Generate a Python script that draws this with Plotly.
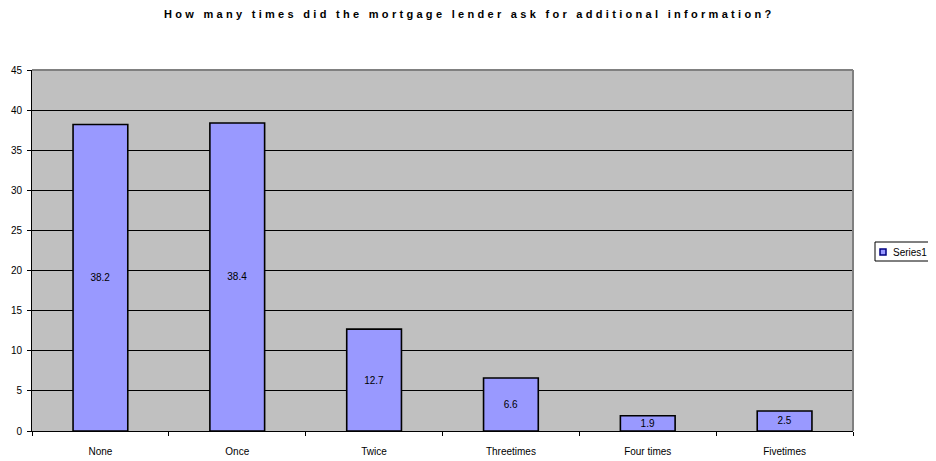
import plotly.graph_objects as go

categories = ["None", "Once", "Twice", "Threetimes", "Four times", "Fivetimes"]
values = [38.2, 38.4, 12.7, 6.6, 1.9, 2.5]
labels = ["38.2", "38.4", "12.7", "6.6", "1.9", "2.5"]
y_ticks = [0, 5, 10, 15, 20, 25, 30, 35, 40, 45]
series_name = "Series1"
title_text = "How many times did the mortgage lender ask for additional information?"

FONT = "Liberation Sans, Arial, sans-serif"
BAR_COLOR = "#9999FF"

# the page body adds an 8px offset; figure sized so the plot lands at page 32..853 x 70..431
W, H = 928, 453
ML, MR, MT, MB = 24, 83, 62, 30

fig = go.Figure()
fig.add_trace(go.Bar(
    x=categories,
    y=values,
    name=series_name,
    text=labels,
    textposition="inside",
    insidetextanchor="middle",
    constraintext="none",
    textfont=dict(family=FONT, size=10, color="black"),
    marker=dict(color=BAR_COLOR, line=dict(color="black", width=1.6)),
    showlegend=False,
))

fig.update_layout(
    width=W, height=H,
    margin=dict(l=ML, r=MR, t=MT, b=MB, autoexpand=False),
    paper_bgcolor="white",
    plot_bgcolor="#C0C0C0",
    bargap=0.6,
    title=dict(text='<span style="letter-spacing:3.3px"><b>' + title_text + "</b></span>",
               x=0.497, xref="container", xanchor="center",
               y=1 - 6.5 / H, yref="container", yanchor="middle",
               font=dict(family=FONT, size=11, color="black")),
    font=dict(family=FONT, size=10, color="black"),
    showlegend=False,
)

fig.update_xaxes(
    type="category", automargin=False,
    showline=True, linecolor="black", linewidth=1,
    ticks="outside", tickson="boundaries", ticklen=4, tickcolor="black",
    showgrid=False,
    tickfont=dict(family=FONT, size=10, color="black"),
    ticklabelstandoff=11,
)
fig.update_yaxes(
    range=[0, 45], automargin=False,
    tickvals=y_ticks,
    showline=True, linecolor="black", linewidth=1,
    ticks="outside", ticklen=4, tickcolor="black",
    showgrid=True, gridcolor="black", gridwidth=1,
    zeroline=False,
    tickfont=dict(family=FONT, size=10, color="black"),
    ticklabelstandoff=3,
)

# gray top and right frame of the plot area
fig.add_shape(type="line", xref="paper", yref="paper", x0=0, x1=1, y0=1, y1=1,
              line=dict(color="#808080", width=2))
fig.add_shape(type="line", xref="paper", yref="paper", x0=1, x1=1, y0=0, y1=1,
              line=dict(color="#808080", width=2))

# legend box (Excel style, to the right of the plot), positions relative to the plot area
PLOT_W = W - ML - MR
PLOT_H = H - MT - MB
def px_x(p):  # page pixel -> paper
    return (p - 32) / PLOT_W
def px_y(p):
    return (431 - p) / PLOT_H

LEG_X0, LEG_Y = 875, 252
fig.add_shape(type="rect", xref="paper", yref="paper",
              x0=px_x(LEG_X0), x1=px_x(945), y0=px_y(LEG_Y - 10), y1=px_y(LEG_Y + 9),
              line=dict(color="black", width=1), fillcolor="white")
fig.add_shape(type="rect", xref="paper", yref="paper",
              x0=px_x(880), x1=px_x(886), y0=px_y(LEG_Y - 3), y1=px_y(LEG_Y + 3),
              line=dict(color="#000080", width=1.5), fillcolor=BAR_COLOR)
fig.add_annotation(text=series_name, xref="paper", yref="paper",
                   x=px_x(891), y=px_y(LEG_Y), xanchor="left", yanchor="middle",
                   showarrow=False, font=dict(family=FONT, size=10, color="black"))

fig.write_html("out.html")
